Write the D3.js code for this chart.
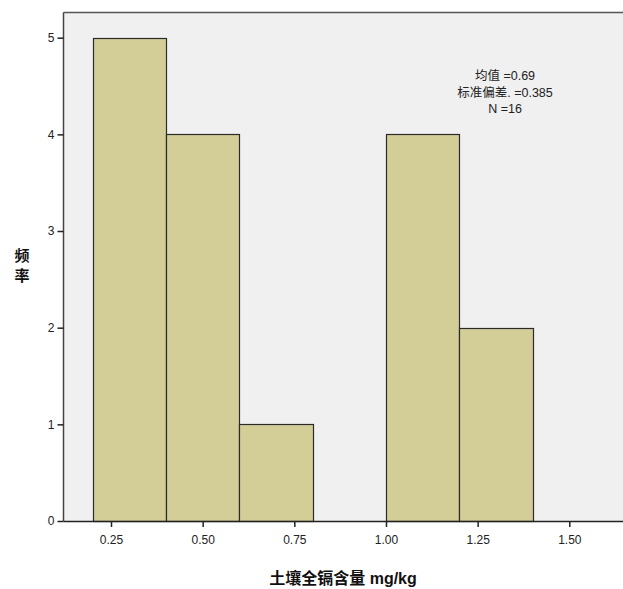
<!DOCTYPE html>
<html><head><meta charset="utf-8">
<script src="https://cdn.jsdelivr.net/npm/d3@7"></script>
<style>body{margin:0;background:#fff}</style>
</head><body>
<script>
const binStarts = [0.2, 0.4, 0.6, 0.8, 1.0, 1.2];
const binWidth = 0.2;
const counts = [5, 4, 1, 0, 4, 2];
const xTicks = [0.25, 0.50, 0.75, 1.00, 1.25, 1.50];
const yTicks = [0, 1, 2, 3, 4, 5];
const statsLines = ["均值 =0.69", "标准偏差. =0.385", "N =16"];
const xTitle = "土壤全镉含量 mg/kg";
const yTitle = ["频", "率"];

(function () {
const W = 623, H = 589;
const pL = 63.5, pT = 12.5, pR = 623, pB = 521;
const svg = d3.select("body").append("svg").attr("width", W).attr("height", H);

const x = d3.scaleLinear().domain([0.25, 1.50]).range([111, 569.3]);
const y = d3.scaleLinear().domain([0, 5]).range([pB, 37.7]);

svg.append("rect").attr("x", pL).attr("y", pT).attr("width", pR - pL).attr("height", pB - pT)
  .attr("fill", "#f0f0f0");

svg.selectAll("rect.bar").data(binStarts.map((s, i) => ({s, c: counts[i]})).filter(d => d.c > 0))
  .enter().append("rect").attr("class", "bar")
  .attr("x", d => Math.round(x(d.s)) + 0.5)
  .attr("y", d => Math.round(y(d.c)) + 0.5)
  .attr("width", d => Math.round(x(d.s + binWidth)) - Math.round(x(d.s)))
  .attr("height", d => Math.round(y(0)) - Math.round(y(d.c)))
  .attr("fill", "#d3ce97").attr("stroke", "#2b2b2b").attr("stroke-width", 1.2);

svg.append("line").attr("x1", pL).attr("x2", pR).attr("y1", pT).attr("y2", pT).attr("stroke", "#555").attr("stroke-width", 1.5);
svg.append("line").attr("x1", pL).attr("x2", pL).attr("y1", pT).attr("y2", pB).attr("stroke", "#444").attr("stroke-width", 1.5);

const xAxis = svg.append("g").attr("transform", `translate(0,${pB})`)
  .call(d3.axisBottom(x).tickValues(xTicks).tickFormat(d3.format(".2f")).tickSize(6).tickPadding(8));
xAxis.select(".domain").attr("d", `M${pL},0.5H${pR}`).attr("stroke", "#222").attr("stroke-width", 1.5);
xAxis.selectAll(".tick line").attr("stroke", "#222").attr("stroke-width", 1.5);
xAxis.selectAll("text").attr("font-family", "Arial, 'Liberation Sans', sans-serif").attr("font-size", 12).attr("fill", "#222");

const yAxis = svg.append("g").attr("transform", `translate(${pL},0)`)
  .call(d3.axisLeft(y).tickValues(yTicks).tickFormat(d3.format("d")).tickSize(6).tickPadding(3));
yAxis.select(".domain").remove();
yAxis.selectAll(".tick line").attr("stroke", "#222").attr("stroke-width", 1.5);
yAxis.selectAll("text").attr("font-family", "Arial, 'Liberation Sans', sans-serif").attr("font-size", 12).attr("fill", "#222");

svg.selectAll("text.stat").data(statsLines).enter().append("text").attr("class", "stat")
  .attr("x", 505).attr("y", (d, i) => 80 + i * 16.5).attr("text-anchor", "middle")
  .attr("font-family", "Arial, 'Liberation Sans', 'Noto Sans CJK SC', sans-serif").attr("font-size", 12.5).attr("fill", "#222")
  .text(d => d);

svg.append("text").attr("x", 343).attr("y", 584).attr("text-anchor", "middle")
  .attr("font-family", "'Liberation Sans', 'Noto Sans CJK SC', sans-serif").attr("font-weight", "bold").attr("font-size", 16).attr("fill", "#111")
  .text(xTitle);

svg.selectAll("text.yt").data(yTitle).enter().append("text").attr("class", "yt")
  .attr("x", 22).attr("y", (d, i) => 261 + i * 20).attr("text-anchor", "middle")
  .attr("font-family", "'Noto Sans CJK SC', sans-serif").attr("font-weight", "bold").attr("font-size", 15).attr("fill", "#111")
  .text(d => d);
})();
</script>
</body></html>
